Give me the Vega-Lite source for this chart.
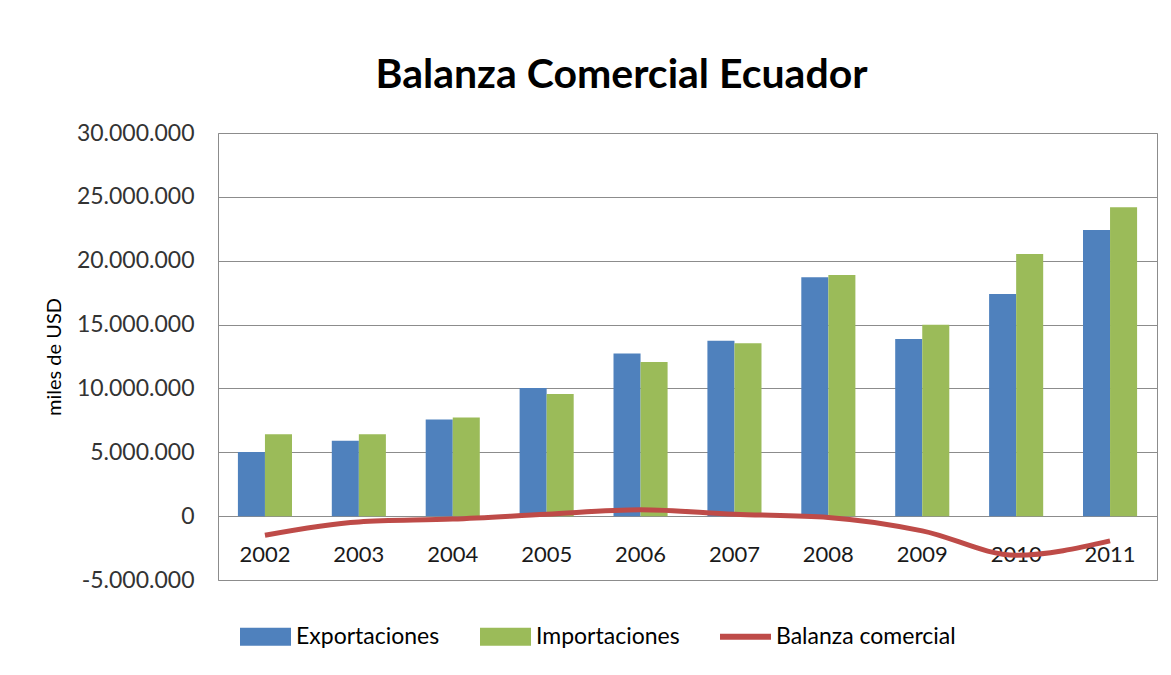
{
  "$schema": "https://vega.github.io/schema/vega-lite/v6.json",
  "width": 939,
  "height": 447,
  "autosize": {"type": "none"},
  "padding": {"left": 218, "top": 133, "right": 14, "bottom": 95},
  "background": "white",
  "title": {
    "text": "Balanza Comercial Ecuador",
    "anchor": "middle",
    "frame": "group",
    "dx": -66,
    "dy": 38,
    "font": "Lato",
    "fontSize": 41,
    "fontWeight": "bold",
    "color": "#000000",
    "baseline": "alphabetic",
    "offset": 31
  },
  "data": {
    "values": [
      {"year": "2002", "serie": "Exportaciones", "valor": 5020000},
      {"year": "2003", "serie": "Exportaciones", "valor": 5900000},
      {"year": "2004", "serie": "Exportaciones", "valor": 7570000},
      {"year": "2005", "serie": "Exportaciones", "valor": 10030000},
      {"year": "2006", "serie": "Exportaciones", "valor": 12740000},
      {"year": "2007", "serie": "Exportaciones", "valor": 13740000},
      {"year": "2008", "serie": "Exportaciones", "valor": 18700000},
      {"year": "2009", "serie": "Exportaciones", "valor": 13870000},
      {"year": "2010", "serie": "Exportaciones", "valor": 17400000},
      {"year": "2011", "serie": "Exportaciones", "valor": 22410000},
      {"year": "2002", "serie": "Importaciones", "valor": 6420000},
      {"year": "2003", "serie": "Importaciones", "valor": 6420000},
      {"year": "2004", "serie": "Importaciones", "valor": 7730000},
      {"year": "2005", "serie": "Importaciones", "valor": 9560000},
      {"year": "2006", "serie": "Importaciones", "valor": 12070000},
      {"year": "2007", "serie": "Importaciones", "valor": 13530000},
      {"year": "2008", "serie": "Importaciones", "valor": 18890000},
      {"year": "2009", "serie": "Importaciones", "valor": 14990000},
      {"year": "2010", "serie": "Importaciones", "valor": 20530000},
      {"year": "2011", "serie": "Importaciones", "valor": 24190000},
      {"year": "2002", "serie": "Balanza comercial", "valor": -1490000},
      {"year": "2003", "serie": "Balanza comercial", "valor": -450000},
      {"year": "2004", "serie": "Balanza comercial", "valor": -230000},
      {"year": "2005", "serie": "Balanza comercial", "valor": 150000},
      {"year": "2006", "serie": "Balanza comercial", "valor": 500000},
      {"year": "2007", "serie": "Balanza comercial", "valor": 150000},
      {"year": "2008", "serie": "Balanza comercial", "valor": -100000},
      {"year": "2009", "serie": "Balanza comercial", "valor": -1150000},
      {"year": "2010", "serie": "Balanza comercial", "valor": -3060000},
      {"year": "2011", "serie": "Balanza comercial", "valor": -1940000}
    ]
  },
  "encoding": {
    "x": {
      "field": "year",
      "type": "nominal",
      "scale": {"paddingInner": 0.424, "paddingOuter": 0.212},
      "axis": {
        "title": null,
        "offset": -63.9,
        "domain": false,
        "ticks": false,
        "tickSize": 0,
        "labelPadding": 28,
        "labelAngle": 0,
        "labelFont": "Lato",
        "labelFontSize": 22,
        "labelColor": "#1a1a1a",
        "grid": false
      }
    },
    "y": {
      "field": "valor",
      "type": "quantitative",
      "scale": {"domain": [-5000000, 30000000], "nice": false, "zero": false},
      "axis": {
        "title": "miles de USD",
        "titleFont": "Lato",
        "titleFontSize": 20,
        "titleFontWeight": "normal",
        "titleColor": "#000000",
        "titlePadding": 12,
        "values": [-5000000, 0, 5000000, 10000000, 15000000, 20000000, 25000000, 30000000],
        "format": ",d",
        "labelFont": "Lato",
        "labelFontSize": 23,
        "labelColor": "#333333",
        "labelPadding": 24,
        "ticks": false,
        "tickSize": 0,
        "domain": false,
        "grid": true,
        "gridColor": "#8c8c8c",
        "gridWidth": 1
      }
    },
    "color": {
      "field": "serie",
      "type": "nominal",
      "scale": {
        "domain": ["Exportaciones", "Importaciones", "Balanza comercial"],
        "range": ["#4F81BD", "#9BBB59", "#BE4B48"]
      },
      "legend": {
        "orient": "none",
        "legendX": 22,
        "legendY": 478,
        "direction": "horizontal",
        "title": null,
        "padding": 0,
        "labelFont": "Lato",
        "labelFontSize": 23,
        "labelColor": "#000000",
        "labelLimit": 0,
        "symbolSize": 2601,
        "labelOffset": 5,
        "columnPadding": 40,
        "symbolStrokeWidth": 0,
        "encode": {
          "symbols": {
            "update": {
              "shape": {"signal": "datum.value === 'Balanza comercial' ? 'M-1,-0.12H1V0.12H-1Z' : 'M-1,-0.35H1V0.35H-1Z'"},
              "fill": {"scale": "color", "field": "value"},
              "strokeWidth": {"value": 0},
              "opacity": {"value": 1}
            }
          }
        }
      }
    }
  },
  "layer": [
    {
      "transform": [{"filter": "datum.serie !== 'Balanza comercial'"}],
      "mark": {"type": "bar"},
      "encoding": {
        "xOffset": {"field": "serie", "type": "nominal", "sort": ["Exportaciones", "Importaciones"]}
      }
    },
    {
      "transform": [{"filter": "datum.serie === 'Balanza comercial'"}],
      "mark": {"type": "line", "strokeWidth": 5, "interpolate": "monotone"},
      "encoding": {}
    }
  ],
  "config": {
    "locale": {
      "number": {"decimal": ",", "thousands": ".", "grouping": [3], "currency": ["", " €"], "minus": "-"}
    },
    "view": {"stroke": "#8c8c8c", "strokeWidth": 1},
    "font": "Lato"
  }
}
